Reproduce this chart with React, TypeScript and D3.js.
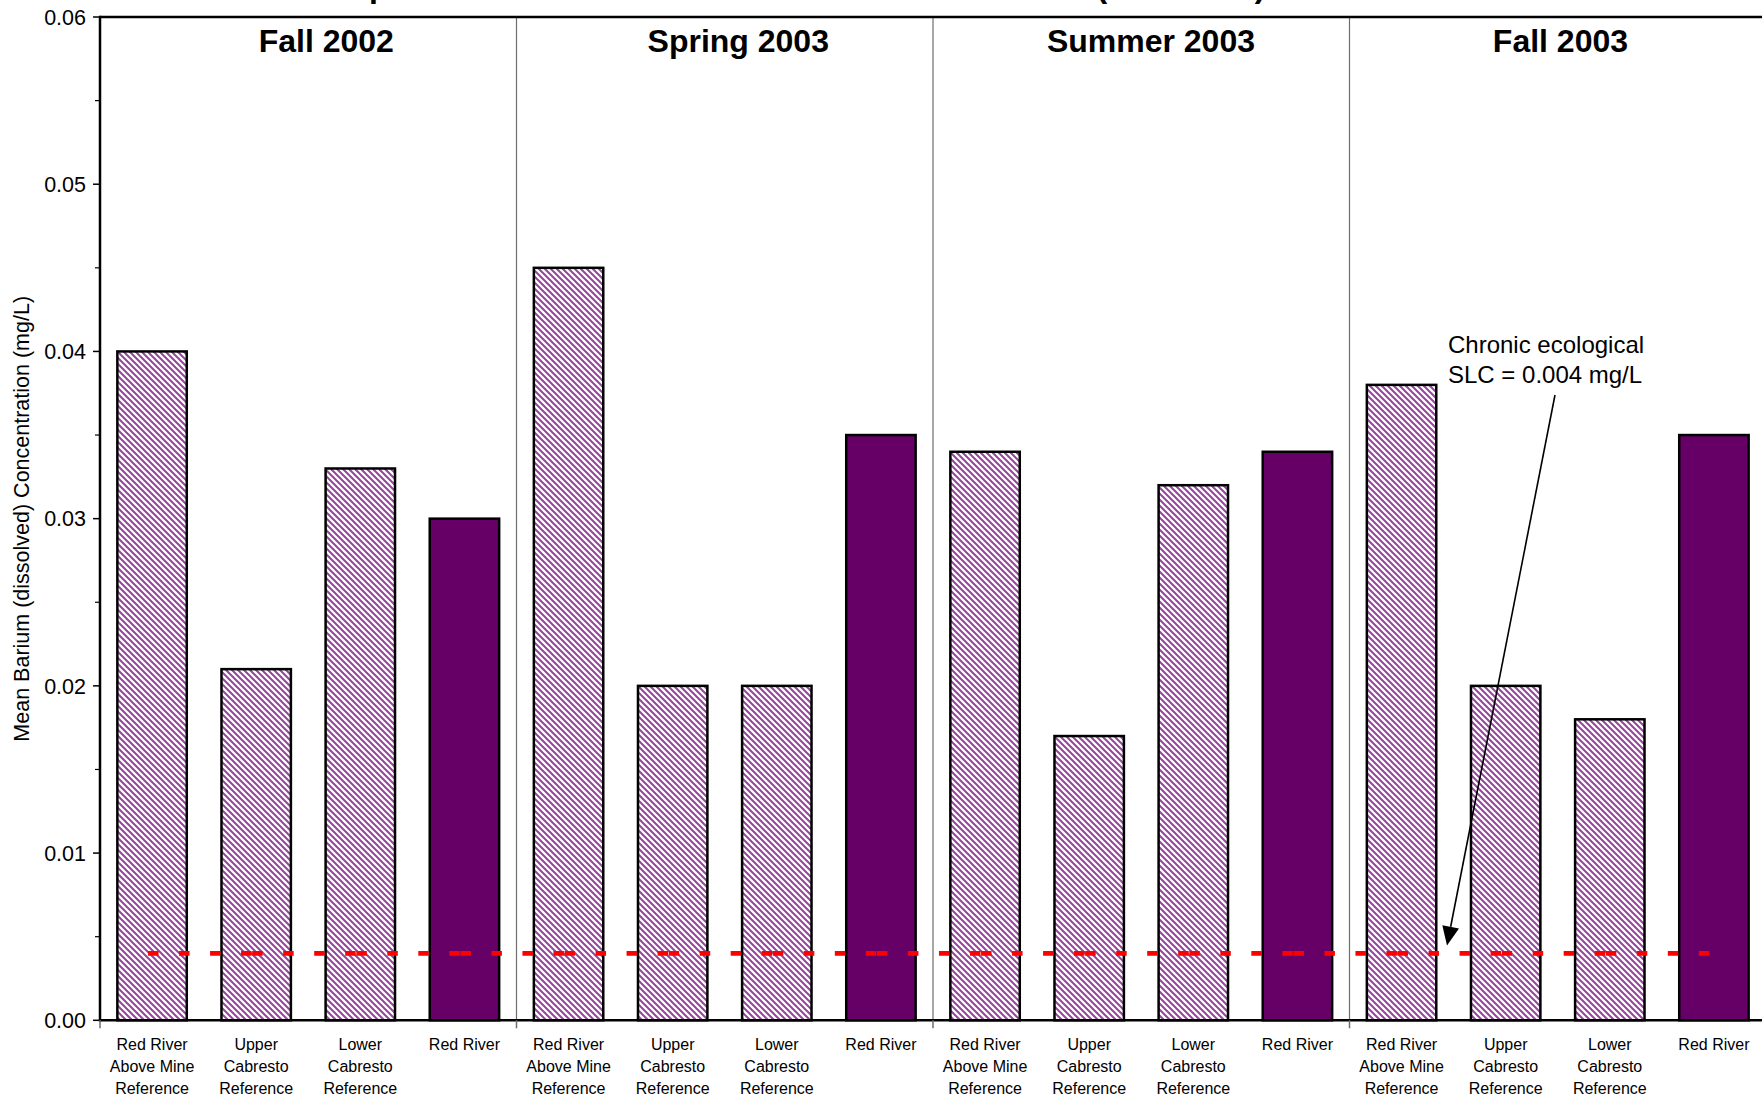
import React from "react";
import * as d3 from "d3";

// Sampling stations (multi-line tick labels) and their type
const STATIONS: string[][] = [
  ["Red River", "Above Mine", "Reference"],
  ["Upper", "Cabresto", "Reference"],
  ["Lower", "Cabresto", "Reference"],
  ["Red River"],
];
const STATION_KIND = ["reference", "reference", "reference", "site"];

// Sampling events
const SEASONS = ["Fall 2002", "Spring 2003", "Summer 2003", "Fall 2003"];

// Mean dissolved barium (mg/L) per station, one array per event
const FALL_2002 = [0.04, 0.021, 0.033, 0.03];
const SPRING_2003 = [0.045, 0.02, 0.02, 0.035];
const SUMMER_2003 = [0.034, 0.017, 0.032, 0.034];
const FALL_2003 = [0.038, 0.02, 0.018, 0.035];
const SEASON_VALUES = [FALL_2002, SPRING_2003, SUMMER_2003, FALL_2003];

const Y_TICKS = [0, 0.01, 0.02, 0.03, 0.04, 0.05, 0.06];
const Y_MINOR_TICKS = [0.005, 0.015, 0.025, 0.035, 0.045, 0.055];

// Chronic ecological screening level
const SLC = 0.004;

const TITLE = "Comparison of Reference and the Red River Barium (dissolved)";
const Y_TITLE = "Mean Barium (dissolved) Concentration (mg/L)";
const NOTE = ["Chronic ecological", "SLC = 0.004 mg/L"];

const FONT = "'Liberation Sans', Arial, Helvetica, sans-serif";

export default function App() {
  const W = 1762;
  const H = 1099;
  const left = 100;
  const right = 1766;
  const top = 17;
  const bottom = 1020.3;

  const rows = SEASONS.flatMap((season, si) =>
    STATIONS.map((lines, ci) => ({
      id: `${si}-${ci}`,
      season,
      lines,
      kind: STATION_KIND[ci],
      value: SEASON_VALUES[si][ci],
    }))
  );

  const x = d3
    .scaleBand<string>()
    .domain(rows.map((r) => r.id))
    .range([left, right])
    .paddingInner(1 / 3)
    .paddingOuter(1 / 6);
  const step = x.step();
  const center = (id: string) => (x(id) as number) + x.bandwidth() / 2;

  const y = d3.scaleLinear().domain([0, 0.06]).range([bottom, top]);
  const fmt = d3.format(".2f");

  const groupEdges = d3.range(SEASONS.length + 1).map((g) => left + step * STATIONS.length * g);
  const seasonDx = [18, 13.5, 9.7, 2.7];

  // threshold line drawn point-to-point between station centres
  const slcY = y(SLC);
  const dashShift = -4;
  const slcSegments = d3.pairs(rows.map((r) => center(r.id) + dashShift));

  // annotation arrow
  const arrowStart: [number, number] = [1555, 395];
  const arrowTip: [number, number] = [1447, slcY - 8];
  const dx = arrowTip[0] - arrowStart[0];
  const dy = arrowTip[1] - arrowStart[1];
  const len = Math.hypot(dx, dy);
  const ux = dx / len;
  const uy = dy / len;
  const headLen = 19;
  const headHalf = 8.5;
  const bx = arrowTip[0] - ux * headLen;
  const by = arrowTip[1] - uy * headLen;
  const head = [
    [arrowTip[0], arrowTip[1]],
    [bx + -uy * headHalf, by + ux * headHalf],
    [bx - -uy * headHalf, by - ux * headHalf],
  ]
    .map((p) => p.join(","))
    .join(" ");

  return (
    <svg
      width={W}
      height={H}
      viewBox={`0 0 ${W} ${H}`}
      style={{ position: "absolute", left: 0, top: 0, background: "#fff" }}
      fontFamily={FONT}
    >
      <defs>
        <pattern id="hatch" patternUnits="userSpaceOnUse" width={6} height={6}>
          <rect width={6} height={6} fill="#ffffff" />
          <path
            d="M-1,-1 L7,7 M-4,2 L2,8 M4,-2 L8,2"
            stroke="#93469a"
            strokeWidth={2.0}
          />
        </pattern>
      </defs>

      <rect x={0} y={0} width={W} height={H} fill="#fff" />

      {/* title, clipped by the page top */}
      <text x={298} y={-3} fontSize={32} fontWeight="bold" fill="#000">
        {TITLE}
      </text>

      {/* season dividers */}
      {groupEdges.slice(1, -1).map((gx, i) => (
        <line key={`div-${i}`} x1={gx} x2={gx} y1={top} y2={bottom} stroke="#6e6e6e" strokeWidth={1.2} />
      ))}

      {/* bars */}
      {rows.map((r) => (
        <rect
          key={r.id}
          x={x(r.id)}
          y={y(r.value)}
          width={x.bandwidth()}
          height={y(0) - y(r.value)}
          fill={r.kind === "site" ? "#660066" : "url(#hatch)"}
          stroke="#000"
          strokeWidth={2.5}
        />
      ))}

      {/* SLC dashed line */}
      {slcSegments.map(([a, b], i) => (
        <line
          key={`slc-${i}`}
          x1={a}
          x2={b}
          y1={slcY}
          y2={slcY}
          stroke="#ff0000"
          strokeWidth={4.8}
          strokeDasharray="10.5 20.5"
        />
      ))}

      {/* frame: top edge, y axis, x axis */}
      <line x1={left} x2={right} y1={top} y2={top} stroke="#000" strokeWidth={2.5} />
      <line x1={left} x2={left} y1={top - 1.2} y2={bottom + 1.2} stroke="#000" strokeWidth={2.5} />
      <line x1={left} x2={right} y1={bottom} y2={bottom} stroke="#000" strokeWidth={2.5} />

      {/* y ticks */}
      {Y_TICKS.map((t) => (
        <g key={`yt-${t}`}>
          <line x1={left - 7} x2={left} y1={y(t)} y2={y(t)} stroke="#000" strokeWidth={1.5} />
          <text x={86} y={y(t)} dy="0.36em" textAnchor="end" fontSize={21.5} fill="#000">
            {fmt(t)}
          </text>
        </g>
      ))}
      {Y_MINOR_TICKS.map((t) => (
        <line key={`ym-${t}`} x1={left - 5} x2={left} y1={y(t)} y2={y(t)} stroke="#000" strokeWidth={1.2} />
      ))}

      {/* y axis title */}
      <text
        transform={`translate(29, ${(y(0.004) + y(0.057)) / 2 + 8.5}) rotate(-90)`}
        textAnchor="middle"
        fontSize={21.5}
        fill="#000"
      >
        {Y_TITLE}
      </text>

      {/* x group ticks */}
      {groupEdges.map((gx, i) => (
        <line key={`xt-${i}`} x1={gx} x2={gx} y1={bottom} y2={bottom + 8} stroke="#6e6e6e" strokeWidth={1.5} />
      ))}

      {/* station labels */}
      {rows.map((r) => (
        <text key={`lab-${r.id}`} textAnchor="middle" fontSize={16} fill="#000">
          {r.lines.map((ln, li) => (
            <tspan key={li} x={center(r.id)} y={1050 + li * 22}>
              {ln}
            </tspan>
          ))}
        </text>
      ))}

      {/* season headers */}
      {SEASONS.map((s, i) => (
        <text
          key={s}
          x={(groupEdges[i] + groupEdges[i + 1]) / 2 + seasonDx[i]}
          y={51.5}
          textAnchor="middle"
          fontSize={32}
          fontWeight="bold"
          fill="#000"
        >
          {s}
        </text>
      ))}

      {/* SLC annotation */}
      <text fontSize={24} fill="#000">
        {NOTE.map((ln, i) => (
          <tspan key={i} x={1448} y={353 + i * 30}>
            {ln}
          </tspan>
        ))}
      </text>
      <line x1={arrowStart[0]} y1={arrowStart[1]} x2={bx} y2={by} stroke="#000" strokeWidth={1.6} />
      <polygon points={head} fill="#000" />
    </svg>
  );
}
